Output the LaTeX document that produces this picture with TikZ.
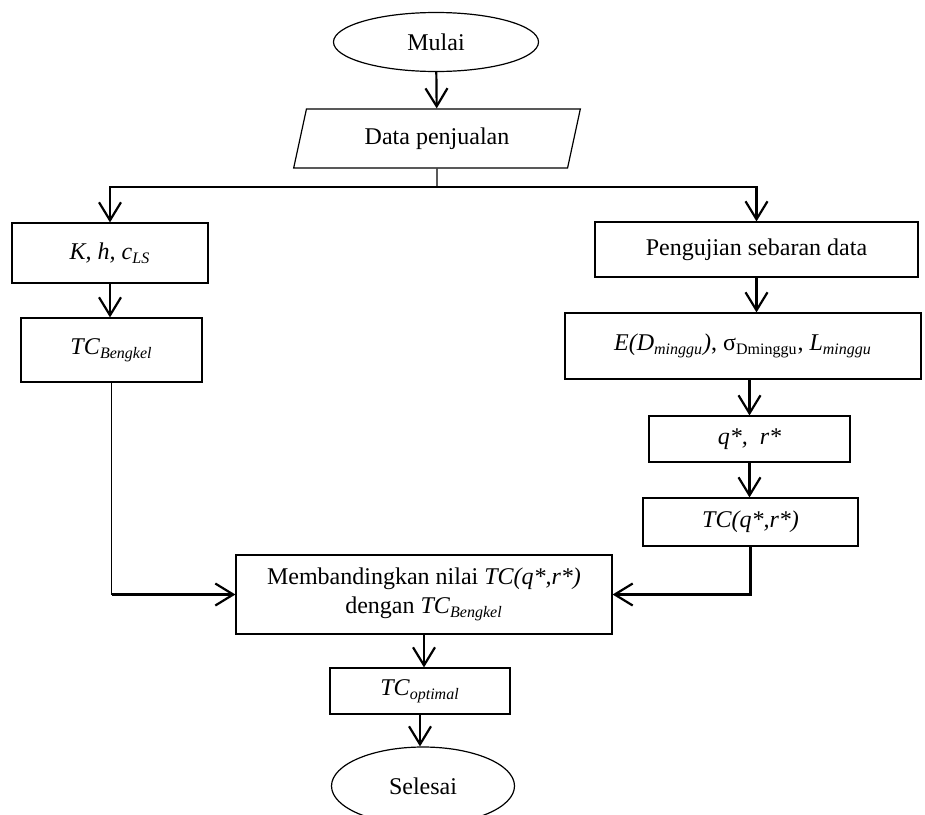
\documentclass[tikz,border=0pt,12pt]{standalone}
\usepackage{fontspec}
\setmainfont{Liberation Serif}
\usetikzlibrary{shapes.geometric,arrows.meta}

\begin{document}
\begin{tikzpicture}[x=0.5pt,y=-0.5pt,>={Straight Barb[length=9pt,width=11pt]},
                line width=0.6pt,
                proc node/.style={rectangle,draw,inner sep=0pt},
                term node/.style={ellipse,draw,inner sep=0pt},
                io node/.style={trapezium,draw,trapezium left angle=72,trapezium right angle=108,
                                trapezium stretches=true,inner sep=0pt},
                flow/.style={->,line width=1.1pt}]

            \useasboundingbox (0,0) rectangle (925,814);

            \node[term node, minimum width=102.5pt, minimum height=29.5pt] (mulai) at (436,42) {Mulai};
            \node[io node, minimum width=144.5pt, minimum height=29.5pt] (data) at (437,138.5) {Data penjualan};
            \node[proc node, minimum width=98pt, minimum height=30pt] (kls) at (110,253) {\textit{K, h, c}\textsubscript{\textit{LS}}};
            \node[proc node, minimum width=90.5pt, minimum height=32pt] (bengkel) at (111.5,350) {\textit{TC}\textsubscript{\textit{Bengkel}}};
            \node[proc node, minimum width=161.5pt, minimum height=27.5pt] (uji) at (756.5,249.5) {Pengujian sebaran data};
            \node[proc node, minimum width=178pt, minimum height=33pt] (stat) at (743,346)
                {\textit{E(D\textsubscript{minggu})}, σ\textsubscript{Dminggu}, \textit{L\textsubscript{minggu}}};
            \node[proc node, minimum width=100.5pt, minimum height=23pt] (qr) at (749.5,439) {\textit{q*,\ \ r*}};
            \node[proc node, minimum width=107.5pt, minimum height=24pt] (tcqr) at (750.5,522) {\textit{TC(q*,r*)}};
            \node[proc node, minimum width=188pt, minimum height=39.5pt, align=center] (banding) at (424,594.5)
                {Membandingkan nilai \textit{TC(q*,r*)}\\dengan \textit{TC}\textsubscript{\textit{Bengkel}}};
            \node[proc node, minimum width=90pt, minimum height=23pt] (optimal) at (420,691) {\textit{TC}\textsubscript{\textit{optimal}}};
            \node[term node, minimum width=91.5pt, minimum height=39pt] (selesai) at (423,786) {Selesai};

            \coordinate (split) at (437,187);
            \coordinate (lcorner) at (bengkel.south |- banding.west);

            % main flow
            \draw[flow] (mulai) -- (data);
            \draw (data.south) -- (split);
            \draw[flow] (split) -| (kls);
            \draw[flow] (split) -| (uji);
            \path[flow]
            (kls.south) edge (kls.south |- bengkel.north)
            (uji.south) edge (uji.south |- stat.north)
            (qr.north |- stat.south) edge (qr.north)
            (qr.south) edge (qr.south |- tcqr.north)
            (banding.south) edge (banding.south |- optimal.north)
            (optimal.south) edge (optimal.south |- selesai.north);

            % back to comparison
            \draw (bengkel.south) -- (lcorner);
            \draw[flow] (lcorner) -- (banding.west);
            \draw[flow] (tcqr.south) |- (banding.east);

        \end{tikzpicture}
\end{document}
